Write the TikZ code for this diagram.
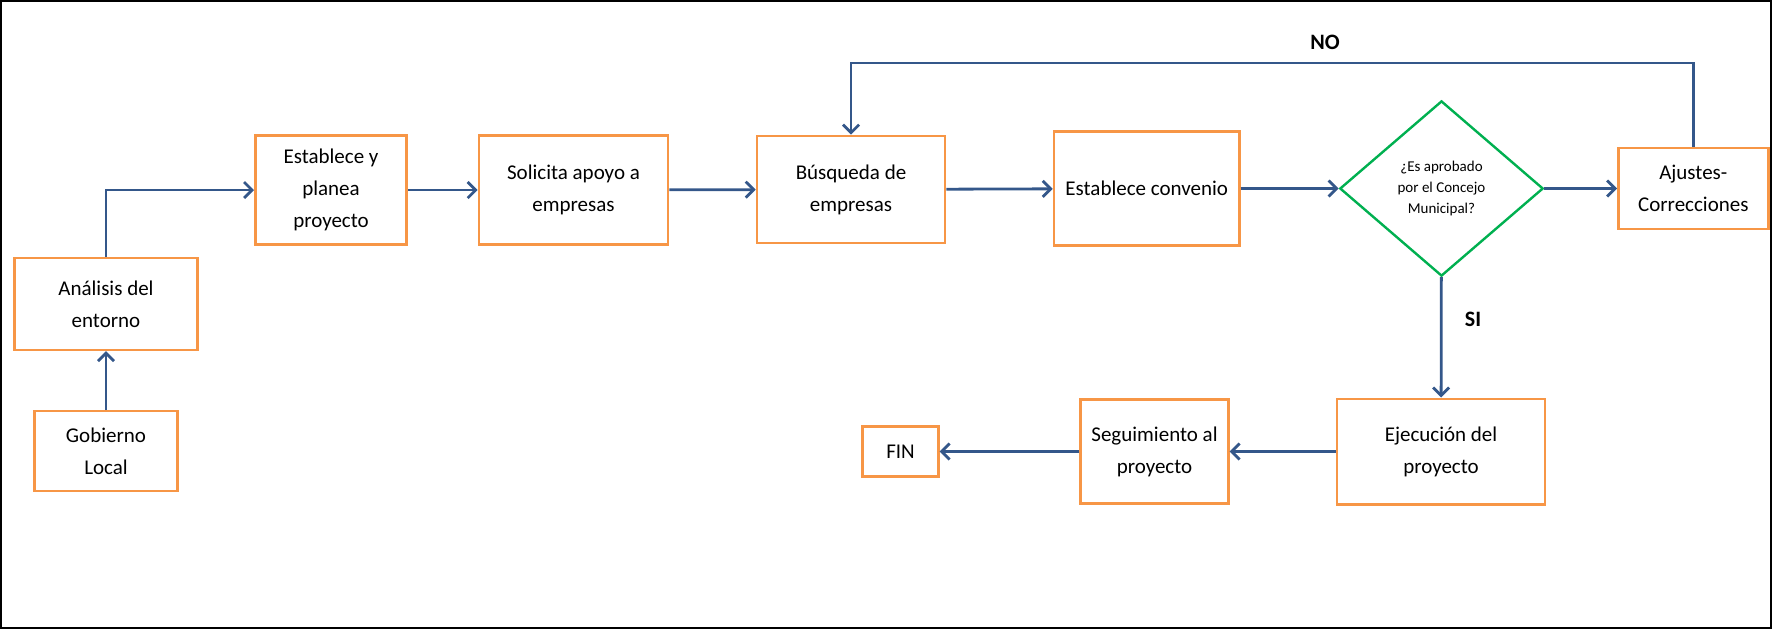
\documentclass[tikz,border=0pt]{standalone}
\usepackage{fontspec}
\setmainfont{Carlito}
\usetikzlibrary{arrows.meta, shapes.geometric}
\definecolor{naranja}{HTML}{F79646}
\definecolor{verde}{HTML}{00B050}
\definecolor{azul}{HTML}{34578A}

\begin{document}
\begin{tikzpicture}[x=0.5pt, y=-0.5pt,
  caja/.style = {shape=rectangle, draw=naranja, line width=1.3pt, align=center,
    inner sep=2pt, font=\fontsize{10.5}{16}\selectfont},
  decision/.style = {shape=diamond, draw=verde, line width=1.2pt, align=center,
    inner sep=0pt, minimum width=101.7pt, minimum height=87.6pt,
    font=\fontsize{7.5}{10.4}\selectfont},
  flecha/.style = {draw=azul, line width=1.4pt, -{Straight Barb[length=4pt, width=8pt]}},
  etiqueta/.style = {font=\fontsize{11}{13}\selectfont\bfseries}]
  \useasboundingbox (0,0) rectangle (1775,629);
  \draw[line width=1pt] (1,1) rectangle (1771,628);

  \node[caja, minimum width=71.4pt, minimum height=40pt] (gob) at (106,451) {Gobierno\\Local};
  \node[caja, minimum width=91.7pt, minimum height=45.9pt] (ana) at (106,304) {Análisis del\\entorno};
  \node[caja, minimum width=75.7pt, minimum height=54.4pt] (est) at (331,190) {Establece y\\planea\\proyecto};
  \node[caja, minimum width=94.5pt, minimum height=54.4pt] (sol) at (573.5,190) {Solicita apoyo a\\empresas};
  \node[caja, minimum width=94pt, minimum height=53.5pt] (bus) at (851,189.5) {Búsqueda de\\empresas};
  \node[caja, minimum width=92.7pt, minimum height=57pt] (conv) at (1146.7,188.5) {Establece convenio};
  \node[decision] (dec) at (1441.5,188.5) {¿Es aprobado\\por el Concejo\\Municipal?};
  \node[caja, minimum width=75pt, minimum height=40.4pt] (aju) at (1693.3,188.5) {Ajustes-\\Correcciones};
  \node[caja, minimum width=103.9pt, minimum height=52.7pt] (eje) at (1441,451.5) {Ejecución del\\proyecto};
  \node[caja, minimum width=73.9pt, minimum height=52pt] (seg) at (1154.5,451.5) {Seguimiento al\\proyecto};
  \node[caja, minimum width=37.9pt, minimum height=24.9pt] (fin) at (900.5,451.5) {FIN};

  \node[etiqueta] (no) at (1325,42) {NO};
  \node[etiqueta] (si) at (1473,319) {SI};
  \coordinate (retorno) at (1300,63);

  \draw[flecha] (gob) -- (ana);
  \draw[flecha] (ana.north) |- (est.west);
  \draw[flecha] (est) -- (sol);
  \draw[flecha] (sol) -- (bus);
  \draw[flecha] (bus) -- (conv);
  \draw[flecha] (conv) -- (dec);
  \draw[flecha] (dec) -- (aju);
  \draw[flecha] (aju.north) -- (aju.north |- retorno) -| (bus.north);
  \draw[flecha] (dec) -- (eje);
  \draw[flecha] (eje) -- (seg);
  \draw[flecha] (seg) -- (fin);
\end{tikzpicture}
\end{document}
